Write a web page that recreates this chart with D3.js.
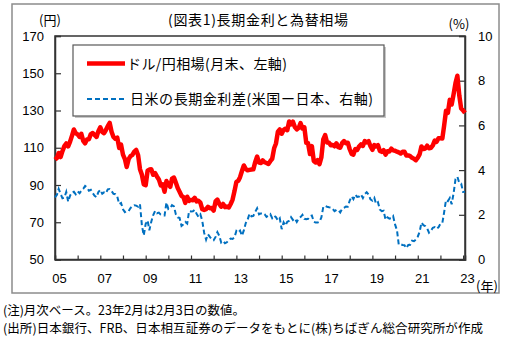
<!DOCTYPE html>
<html><head><meta charset="utf-8">
<script src="https://cdn.jsdelivr.net/npm/d3@7"></script>
<style>
html,body{margin:0;padding:0;background:#fff;}
svg{display:block;}
text{font-family:"Liberation Sans",Arial,"Noto Sans CJK JP",sans-serif;fill:#000;}
.jp{font-family:"Noto Sans CJK JP","Liberation Sans",sans-serif;}
</style></head>
<body>
<script>
// ---- data ----
const startYear = 2005, startMonth = 0; // Jan 2005, monthly to Feb 2023
const usdjpy = [
103.6,104.5,107.2,105.0,108.2,110.9,112.3,110.7,113.3,116.4,119.8,117.8,
117.2,115.8,117.5,113.7,112.4,114.5,114.6,117.3,117.9,116.9,115.8,118.9,
121.0,118.5,117.8,119.5,121.6,123.3,118.6,115.8,114.8,115.4,109.9,111.7,
106.3,103.9,99.7,103.9,105.5,106.2,107.9,108.8,106.0,98.5,95.5,90.3,
89.9,97.7,98.3,98.4,95.5,96.4,94.6,93.0,89.8,90.3,86.4,92.1,
90.3,89.0,93.4,94.0,91.3,88.4,86.4,84.2,83.5,80.4,83.7,81.5,
82.0,81.8,83.1,81.2,81.5,80.5,77.0,76.6,77.0,78.3,77.5,77.6,
76.3,81.2,82.2,79.8,78.4,79.8,78.1,78.4,77.9,79.8,82.2,86.6,
91.7,92.3,94.2,97.5,100.5,98.6,97.9,98.1,98.3,98.4,102.4,105.3,
102.0,101.8,103.2,102.2,101.8,101.3,102.8,104.1,109.7,112.3,118.6,119.8,
117.5,119.6,120.2,119.4,124.1,122.5,124.0,121.1,119.9,120.6,123.2,120.4,
121.0,112.6,112.4,106.6,110.9,102.9,102.1,103.3,101.2,104.8,114.5,116.8,
112.8,112.7,111.4,111.5,110.8,112.4,110.3,110.0,112.5,113.6,112.4,112.7,
109.2,106.7,106.3,109.3,108.8,110.7,111.8,111.0,113.6,112.9,113.5,110.8,
108.9,111.4,110.7,111.4,108.3,107.8,108.7,106.3,108.1,108.0,109.5,108.6,
108.4,107.9,107.5,106.9,107.8,107.8,105.8,105.9,105.5,104.6,104.1,103.3,
104.7,106.6,110.7,109.3,109.6,111.1,109.7,110.0,111.3,113.9,113.2,115.1,
115.1,115.0,121.7,129.8,128.7,135.7,133.2,138.7,144.7,148.7,138.1,131.1,
130.1,128.7
];
const spread = [
2.78,2.89,3.16,2.94,2.74,2.77,3.02,2.59,2.86,3.00,3.03,2.92,
3.05,2.97,3.08,3.16,3.29,3.22,3.08,3.12,2.97,2.85,2.79,3.02,
3.12,2.94,3.00,2.96,3.14,3.15,3.06,2.94,2.92,2.82,2.48,2.53,
2.25,2.12,2.17,2.16,2.30,2.39,2.43,2.41,2.36,2.48,1.52,1.08,
1.60,1.75,1.31,1.69,1.98,2.17,2.07,2.10,2.01,1.98,1.97,2.55,
2.26,2.30,2.43,2.38,2.03,1.88,1.86,1.50,1.57,1.68,1.61,2.17,
2.15,2.16,2.22,2.05,1.91,2.02,1.74,1.19,0.89,1.13,1.01,0.90,
0.86,1.01,1.22,1.06,0.76,0.83,0.73,0.77,0.88,0.94,0.92,0.99,
1.28,1.21,1.29,1.07,1.30,1.63,1.78,2.05,1.93,1.95,2.13,2.29,
2.02,2.06,2.08,2.03,1.91,1.97,2.03,1.85,1.96,1.89,1.74,1.84,
1.36,1.66,1.52,1.69,1.73,1.89,1.77,1.84,1.68,1.83,1.90,2.00,
1.82,1.80,1.82,1.94,1.97,1.69,1.65,1.65,1.69,1.88,2.35,2.40,
2.36,2.34,2.33,2.27,2.16,2.22,2.22,2.11,2.27,2.31,2.37,2.36,
2.64,2.82,2.70,2.90,2.80,2.82,2.91,2.75,2.93,3.01,2.90,2.69,
2.63,2.76,2.49,2.56,2.24,2.16,2.18,1.78,1.89,1.83,1.85,1.94,
1.57,1.31,0.66,0.68,0.65,0.64,0.51,0.65,0.66,0.84,0.82,0.89,
1.02,1.25,1.65,1.54,1.50,1.40,1.20,1.29,1.42,1.45,1.37,1.44,
1.60,1.63,2.10,2.66,2.61,2.75,2.47,2.96,3.59,3.70,3.43,3.40,
3.02,3.03
];
const leftTicks = [50,70,90,110,130,150,170];
const rightTicks = [0,2,4,6,8,10];
const xTickLabels = ["05","07","09","11","13","15","17","19","21","23"];
const title = "(図表1)長期金利と為替相場";
const legendLabels = ["ドル/円相場(月末、左軸)", "日米の長期金利差(米国ー日本、右軸)"];
const notes = ["(注)月次ベース。23年2月は2月3日の数値。", "(出所)日本銀行、FRB、日本相互証券のデータをもとに(株)ちばぎん総合研究所が作成"];

// ---- chart ----
const W = 513, H = 337;
const svg = d3.select("body").append("svg").attr("width", W).attr("height", H);
const L = 55, R = 465, T = 36, B = 259.5;

const dates = usdjpy.map((_, i) => new Date(startYear, startMonth + i, 1));
const x = d3.scaleTime().domain([dates[0], dates[dates.length - 1]]).range([L, R]);
const yL = d3.scaleLinear().domain([50, 170]).range([B, T]);
const yR = d3.scaleLinear().domain([0, 10]).range([B, T]);

// outer border
svg.append("rect").attr("x", 12).attr("y", 4).attr("width", 487).attr("height", 289)
  .attr("fill", "none").attr("stroke", "#8c8c8c").attr("stroke-width", 1.5);

// plot frame
svg.append("rect").attr("x", L).attr("y", T).attr("width", R - L).attr("height", B - T)
  .attr("fill", "none").attr("stroke", "#333").attr("stroke-width", 1.5);

// left axis
const axL = d3.axisLeft(yL).tickValues(leftTicks).tickSize(-6).tickPadding(11);
const gL = svg.append("g").attr("transform", `translate(${L},0)`).call(axL);
// right axis
const axR = d3.axisRight(yR).tickValues(rightTicks).tickSize(-6).tickPadding(13);
const gR = svg.append("g").attr("transform", `translate(${R},0)`).call(axR);
// bottom axis
const years = d3.range(startYear, 2024).map(y => new Date(y, 0, 1));
const axB = d3.axisBottom(x).tickValues(years).tickSize(-4).tickFormat("");
const gB = svg.append("g").attr("transform", `translate(0,${B})`).call(axB);
[gL, gR, gB].forEach(g => {
  g.select(".domain").attr("stroke", "#333").attr("stroke-width", 1.5);
  g.selectAll(".tick line").attr("stroke", "#333").attr("stroke-width", 1.2);
  g.selectAll("text").attr("font-size", 13).attr("font-family", "Liberation Sans, Arial, sans-serif").attr("fill", "#000");
});
gR.selectAll(".tick text").attr("text-anchor", "start").attr("dx", 0);

// x labels
svg.append("g").selectAll("text").data(xTickLabels).join("text")
  .attr("x", d => x(new Date(2000 + (+d), 0, 1)) + 4.5)
  .attr("y", 283)
  .attr("text-anchor", "middle").attr("font-size", 13).text(d => d);

// lines
const lineR = d3.line().x((d, i) => x(dates[i])).y(d => yL(d));
const lineB = d3.line().x((d, i) => x(dates[i])).y(d => yR(d));
svg.append("path").datum(spread).attr("d", lineB).attr("fill", "none")
  .attr("stroke", "#0070C0").attr("stroke-width", 2).attr("stroke-dasharray", "5,3");
svg.append("path").datum(usdjpy).attr("d", lineR).attr("fill", "none")
  .attr("stroke", "#FF0000").attr("stroke-width", 4.5).attr("stroke-linejoin", "round");

// titles / units
svg.append("text").attr("class", "jp").attr("x", 168).attr("y", 25)
  .attr("font-size", 14).attr("textLength", 180).attr("lengthAdjust", "spacing").text(title);
svg.append("text").attr("class", "jp").attr("x", 50).attr("y", 25).attr("text-anchor", "middle")
  .attr("font-size", 13).text("(円)");
svg.append("text").attr("class", "jp").attr("x", 459).attr("y", 29).attr("text-anchor", "middle")
  .attr("font-size", 13).text("(%)");
svg.append("text").attr("class", "jp").attr("x", 487).attr("y", 291).attr("text-anchor", "middle")
  .attr("font-size", 13).text("(年)");

// legend
const lg = svg.append("g");
lg.append("rect").attr("x", 75).attr("y", 47).attr("width", 311).attr("height", 71).attr("fill", "#c8c8c8");
lg.append("rect").attr("x", 73).attr("y", 45).attr("width", 311).attr("height", 71)
  .attr("fill", "#fff").attr("stroke", "#595959").attr("stroke-width", 1.2);
lg.append("line").attr("x1", 87).attr("x2", 125).attr("y1", 63.5).attr("y2", 63.5)
  .attr("stroke", "#FF0000").attr("stroke-width", 4.5);
lg.append("line").attr("x1", 87).attr("x2", 126).attr("y1", 99).attr("y2", 99)
  .attr("stroke", "#0070C0").attr("stroke-width", 2).attr("stroke-dasharray", "5,3");
lg.append("text").attr("class", "jp").attr("x", 127).attr("y", 68.5).attr("font-size", 14)
  .attr("textLength", 160).attr("lengthAdjust", "spacing").text(legendLabels[0]);
lg.append("text").attr("class", "jp").attr("x", 130).attr("y", 104).attr("font-size", 14)
  .attr("textLength", 243).attr("lengthAdjust", "spacing").text(legendLabels[1]);

// notes
svg.append("text").attr("class", "jp").attr("x", 3).attr("y", 315).attr("font-size", 12.5)
  .attr("textLength", 242).attr("lengthAdjust", "spacing").text(notes[0]);
svg.append("text").attr("class", "jp").attr("x", 3).attr("y", 333).attr("font-size", 12.5)
  .attr("textLength", 480).attr("lengthAdjust", "spacing").text(notes[1]);
</script>
</body></html>
